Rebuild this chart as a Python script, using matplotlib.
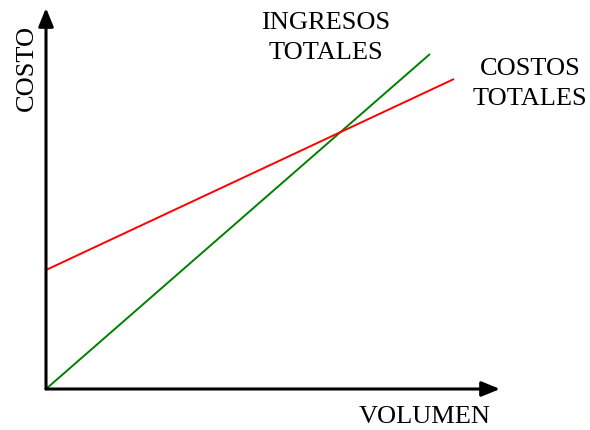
import matplotlib.pyplot as plt

# datos (unidades = pixeles desde el origen)
vol_ingresos = [0, 384]
ingresos = [0, 335]
vol_costos = [0, 408]
costos = [119, 310]

W, H = 590, 430
ox, oy = 46, 389          # origen en pixeles
x_len, y_len = 454, 381   # largo de los ejes hasta la punta

plt.rcParams['font.family'] = ['Liberation Serif', 'DejaVu Serif']

fig = plt.figure(figsize=(W / 100, H / 100), dpi=100)
ax = fig.add_axes([ox / W, (H - oy) / H, x_len / W, y_len / H])
ax.set_xlim(0, x_len)
ax.set_ylim(0, y_len)
ax.axis('off')

ax.plot(vol_ingresos, ingresos, color='#008000', lw=1.4, solid_capstyle='butt')
ax.plot(vol_costos, costos, color='#ff0000', lw=1.4, solid_capstyle='butt')

# ejes con flechas
arrow = dict(arrowstyle='-|>,head_length=1.1,head_width=0.45', color='black', lw=2.2,
             shrinkA=0, shrinkB=0)
ax.annotate('', xy=(x_len, 0), xytext=(0, 0), arrowprops=arrow, annotation_clip=False)
ax.annotate('', xy=(0, y_len), xytext=(0, 0), arrowprops=arrow, annotation_clip=False)


def put(text, px, py, **kw):
    fig.text(px / W, 1 - py / H, text, fontsize=19, ha='center', va='center', **kw)


put('INGRESOS\nTOTALES', 326, 38, linespacing=1.45)
put('COSTOS\nTOTALES', 530, 84, linespacing=1.45)
put('VOLUMEN', 425, 417)
put('COSTO', 27, 68, rotation=90)

fig.savefig('out.png', dpi=100)
